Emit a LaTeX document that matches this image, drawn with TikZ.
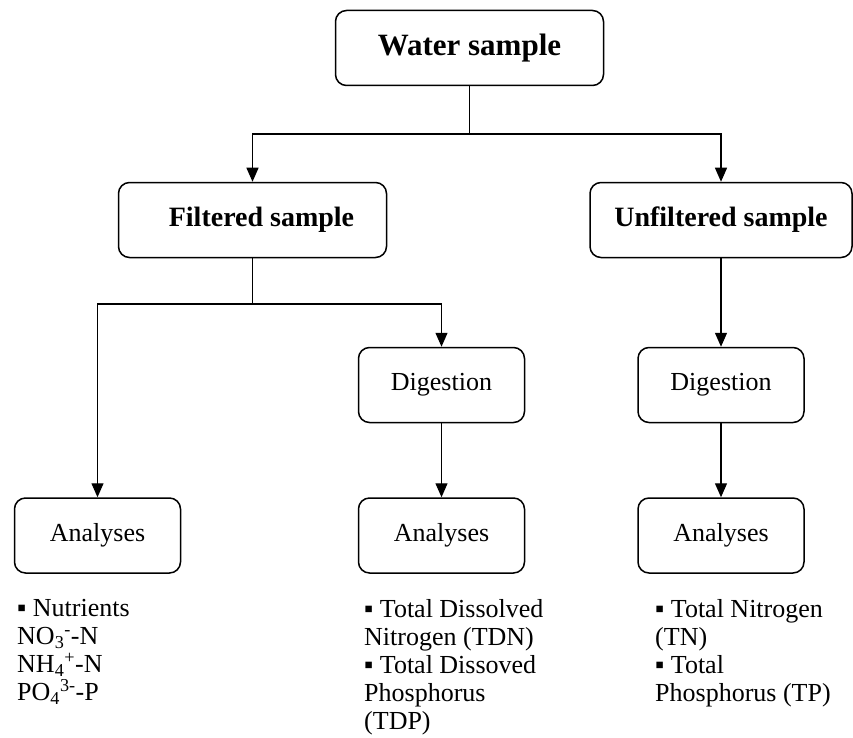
\documentclass[tikz,border=0pt]{standalone}
\usepackage{fontspec}
\setmainfont{Liberation Serif}
\usetikzlibrary{arrows.meta}

\begin{document}
\begin{tikzpicture}[
    x=1pt, y=-1pt,
    box/.style={draw,line width=1.5pt,rectangle,rounded corners=11pt,minimum height=75pt,minimum width=166pt,inner sep=0pt,font=\fontsize{26}{28}\selectfont},
    big/.style={box,minimum width=268pt,font=\fontsize{28}{30}\selectfont\bfseries},
    notes/.style={anchor=north west,align=left,inner sep=0pt,font=\fontsize{26}{28}\selectfont},
    arr/.style={-{Triangle[width=12pt,length=14pt]},line width=1.3pt},
]

    \useasboundingbox (0,0) rectangle (853,738);

    \node[big,font=\fontsize{31}{33}\selectfont\bfseries] (water) at (469.5,48) {Water sample};
    \node[big] (filt) at (252.5,220) {\hspace{18pt}Filtered sample};
    \node[big,minimum width=262pt] (unfilt) at (721,220) {Unfiltered sample};
    \node[box] (dig1) at (441.5,385) {Digestion\hspace{10pt}};
    \node[box] (dig2) at (721,385) {Digestion\hspace{10pt}};
    \node[box] (ana1) at (97.5,535.5) {Analyses\hspace{10pt}};
    \node[box] (ana2) at (441.5,535.5) {Analyses\hspace{10pt}};
    \node[box] (ana3) at (721,535.5) {Analyses\hspace{10pt}};

    \node[notes] (nut) at (17,599) {▪ Nutrients\\NO\textsubscript{3}\textsuperscript{-}-N\\NH\textsubscript{4}\textsuperscript{+}-N\\PO\textsubscript{4}\textsuperscript{3-}-P};
    \node[notes] (tdn) at (364,599) {▪ Total Dissolved\\Nitrogen (TDN)\\▪ Total Dissoved\\Phosphorus\\(TDP)};
    \node[notes] (tn) at (655,599) {▪ Total Nitrogen\\(TN)\\▪ Total\\Phosphorus (TP)};

    \coordinate (split) at (469.5,134);
    \coordinate (fsplit) at (252.5,304);

    \draw[line width=1.3pt] (water) -- (split);
    \draw[arr] (split) -| (filt);
    \draw[arr] (split) -| (unfilt);

    \draw[line width=1.5pt] (filt) -- (fsplit);
    \draw[arr] (fsplit) -| (ana1);
    \draw[arr] (fsplit) -| (dig1);

    \draw[arr]
        (unfilt) edge (dig2)
        (dig1) edge (ana2)
        (dig2) edge (ana3)
    ;

\end{tikzpicture}
\end{document}
